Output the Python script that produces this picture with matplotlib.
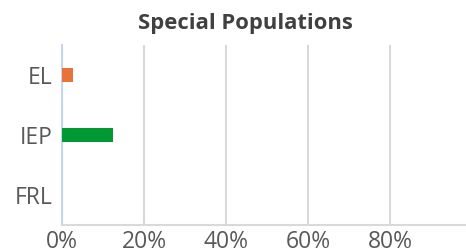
import matplotlib.pyplot as plt
from matplotlib.ticker import FuncFormatter

# data
categories = ["FRL", "IEP", "EL"]
values = [0.0, 0.124, 0.027]
colors = ["#4472c4", "#009933", "#e8733a"]
x_ticks = [0, 0.2, 0.4, 0.6, 0.8]

plt.rcParams["font.family"] = ["Open Sans", "DejaVu Sans"]

fig = plt.figure(figsize=(4.66, 2.48), dpi=100)
ax = fig.add_axes([0.133, 0.093, 0.88, 0.725])

ypos = range(len(categories))
ax.barh(ypos, values, height=0.23, color=colors, zorder=3)

ax.set_xlim(0, 1.0)
ax.set_ylim(-0.5, len(categories) - 0.5)
ax.set_yticks(list(ypos))
ax.set_yticklabels(categories)
ax.set_xticks(x_ticks)
ax.xaxis.set_major_formatter(FuncFormatter(lambda v, _: f"{v:.0%}"))

ax.grid(axis="x", color="#d9d9d9", linewidth=1.5, zorder=0)
ax.tick_params(axis="both", length=0, labelsize=16.5, labelcolor="#595959")
ax.tick_params(axis="y", pad=7)
ax.tick_params(axis="x", pad=4)

for side in ["top", "right"]:
    ax.spines[side].set_visible(False)
ax.spines["left"].set_color("#c9d6ea")
ax.spines["left"].set_linewidth(1.5)
ax.spines["bottom"].set_color("#d9d9d9")
ax.spines["bottom"].set_linewidth(1.5)

fig.text(0.526, 0.905, "Special Populations", ha="center", va="center",
         fontsize=15.8, fontweight="bold", color="#404040")

fig.savefig("out.png", dpi=100)
